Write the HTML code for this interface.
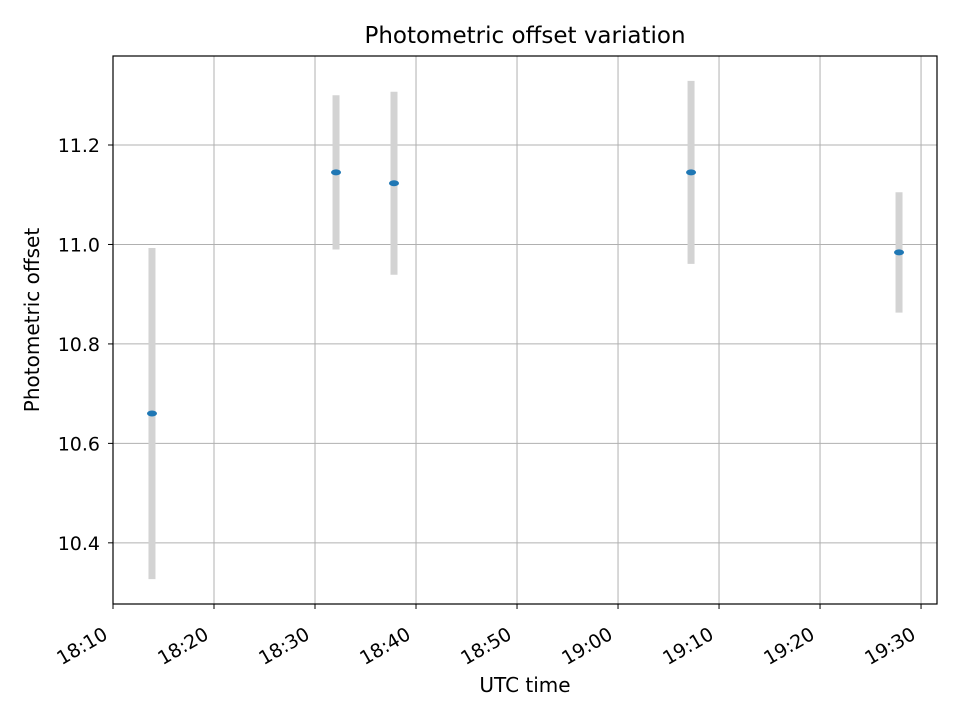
<!DOCTYPE html>
<html><head><meta charset="utf-8"><style>
body{margin:0;background:#fff;}
svg{font-family:"DejaVu Sans","Liberation Sans",sans-serif;}
</style></head><body>
<svg id="chart" width="960" height="720" viewBox="0 0 960 720"></svg>
<script>
const times=[13.86,32.08,37.82,67.23,87.82]; // minutes after 18:00
const offsets=[10.660,11.145,11.123,11.145,10.984];
const errors=[0.333,0.155,0.184,0.184,0.121];
const xTickMinutes=[10,20,30,40,50,60,70,80,90];
const xTickLabels=["18:10","18:20","18:30","18:40","18:50","19:00","19:10","19:20","19:30"];
const yTicks=[10.4,10.6,10.8,11.0,11.2];
const yTickLabels=["10.4","10.6","10.8","11.0","11.2"];

const L=113,R=937,T=56,B=604;
const xMin=10,xMax=91.58,yMin=10.277,yMax=11.379;
const xs=v=>L+(v-xMin)/(xMax-xMin)*(R-L);
const ys=v=>B-(v-yMin)/(yMax-yMin)*(B-T);
const svg=document.getElementById('chart');
const NS='http://www.w3.org/2000/svg';
function mk(tag,attrs,parent){const e=document.createElementNS(NS,tag);for(const k in attrs)e.setAttribute(k,attrs[k]);(parent||svg).appendChild(e);return e;}

const grid=mk('g',{});


xTickMinutes.forEach((m,i)=>{
  const x=xs(m);
  const gl=mk('line',{x1:x,x2:x,y1:T,y2:B,stroke:'#b0b0b0','stroke-width':1},grid);
  
  
  const tk=mk('line',{x1:x,x2:x,y1:B,y2:B+5,stroke:'#000','stroke-width':1});
  
  
  const ax=x-4, ay=B+34;
  const t=mk('text',{x:ax,y:ay,'font-size':19,'text-anchor':'end',transform:`rotate(-30 ${ax} ${ay})`,fill:'#000'});
  t.textContent=xTickLabels[i];
  
  
});
yTicks.forEach((v,i)=>{
  const y=ys(v);
  const gl=mk('line',{x1:L,x2:R,y1:y,y2:y,stroke:'#b0b0b0','stroke-width':1},grid);
  
  
  const tk=mk('line',{x1:L-5,x2:L,y1:y,y2:y,stroke:'#000','stroke-width':1});
  
  
  const t=mk('text',{x:L-13,y:y+7,'font-size':19,'text-anchor':'end',fill:'#000'});
  t.textContent=yTickLabels[i];
  
  
});

times.forEach((m,i)=>{
  const x=xs(m);
  const eb=mk('line',{x1:x,x2:x,y1:ys(offsets[i]+errors[i]),y2:ys(offsets[i]-errors[i]),stroke:'#d3d3d3','stroke-width':7});
  
  
  const p=mk('ellipse',{cx:x,cy:ys(offsets[i]),rx:5,ry:3,fill:'#1f77b4'});
  
  
});

const frame=mk('rect',{x:L,y:T,width:R-L,height:B-T,fill:'none',stroke:'#000','stroke-width':1.2});



const title=mk('text',{x:(L+R)/2,y:43,'font-size':23,'text-anchor':'middle',fill:'#000'});
title.textContent='Photometric offset variation';


const xt=mk('text',{x:(L+R)/2,y:692,'font-size':20,'text-anchor':'middle',fill:'#000'});
xt.textContent='UTC time';


const yt=mk('text',{x:39,y:(T+B)/2-10,'font-size':20,'text-anchor':'middle',fill:'#000',transform:`rotate(-90 39 ${(T+B)/2-10})`});
yt.textContent='Photometric offset';


</script>
</body></html>
